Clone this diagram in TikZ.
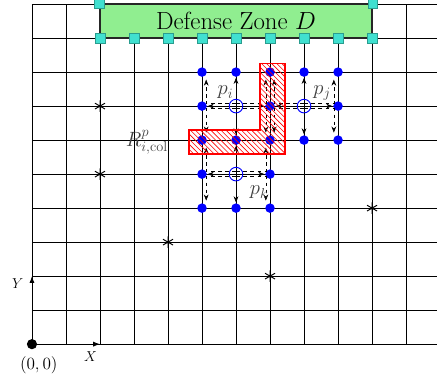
\documentclass[tikz,border=0pt]{standalone}
\usepackage{xcolor}
\definecolor{zonegreen}{HTML}{90EE90}
\definecolor{turq}{HTML}{40E0D0}
\definecolor{turqdark}{HTML}{2A9D8F}
\usepackage{tikz}
\usetikzlibrary{arrows.meta}

\begin{document}
\begin{tikzpicture}[x=1cm,y=1cm,
  dot/.style={circle,fill=blue,inner sep=0pt,minimum size=2.8mm},
  ring/.style={circle,draw=blue,line width=0.8pt,inner sep=0pt,minimum size=4mm},
  marker/.style={rectangle,fill=turq,draw=turqdark,line width=0.4pt,inner sep=0pt,minimum size=2.8mm},
  move/.style={dashed,line width=0.5pt,-{Stealth[length=1.8mm,width=1.4mm]}},
  lbl/.style={text=black!75,font=\LARGE}]
  \useasboundingbox (-0.94,-1.09) rectangle (11.91,10.12);
  \begin{scope}
    \clip (-0.94,-1.09) rectangle (11.91,10.12);
    \draw[line width=0.5pt] (0,0) grid (12,10);
  \end{scope}
  \node[draw=black!85,line width=1pt,fill=zonegreen,minimum width=8cm,minimum height=1cm,inner sep=0pt,font=\huge] (zone) at (6,9.5) {Defense Zone $D$};
  \node[marker] (mtl) at (zone.north west) {};
  \node[marker] (mtr) at (zone.north east) {};
  \foreach \x in {2,...,10} \node[marker] (m\x) at (\x,9) {};
  \foreach \s/\x/\y in {s1/2/7,s2/2/5,s3/4/3,s4/7/2,s5/10/4} {
    \coordinate (\s) at (\x,\y);
    \draw[line width=0.8pt] (\s) +(90:0.17) -- +(270:0.17) +(30:0.17) -- +(210:0.17) +(150:0.17) -- +(330:0.17);
  }
  \foreach \x/\y in {5/8,6/8,7/8,8/8,9/8,5/7,7/7,9/7,5/6,6/6,7/6,8/6,9/6,5/5,7/5,5/4,6/4,7/4}
    \node[dot] (d\x\y) at (\x,\y) {};
  \node[ring] (pi) at (6,7) {};
  \node[ring] (pj) at (8,7) {};
  \node[ring] (pk) at (6,5) {};
  \foreach \p/\px/\py in {pi/6/7,pj/8/7,pk/6/5} {
    \foreach \dx/\dy in {-1/0,1/0,0/-1,0/1} {
      \pgfmathtruncatemacro\tx{\px+\dx}
      \pgfmathtruncatemacro\ty{\py+\dy}
      \draw[move,shorten >=0.6pt] (\p.center) -- (d\tx\ty);
    }
    \foreach \dx in {-1,1} \foreach \dy in {-1,1} {
      \pgfmathtruncatemacro\tx{\px+\dx}
      \pgfmathtruncatemacro\ty{\py+\dy}
      \draw[move,shorten >=2.2mm] ([yshift=\dy*2pt]\p.center) -| ([xshift=-\dx*3.5pt]d\tx\ty.center);
    }
  }
  \begin{scope}
    \clip (4.62,5.6) -- (7.45,5.6) -- (7.45,8.25) -- (6.7,8.25) -- (6.7,6.3) -- (4.62,6.3) -- cycle;
    \foreach \a in {1.5,1.65,...,7.6} \draw[red,line width=0.5pt] (\a,8.4) -- ++(3,-3);
  \end{scope}
  \draw[red,line width=1.5pt]
    (4.62,5.6) -- (7.45,5.6) -- (7.45,8.25) -- (6.7,8.25) -- (6.7,6.3) -- (4.62,6.3) -- cycle;
  \node[lbl] (lpi) at (5.69,7.4) {$p_i$};
  \node[lbl] (lpj) at (8.53,7.38) {$p_j$};
  \node[lbl] (lpk) at (6.68,4.46) {$p_k$};
  \node[lbl] (rcol) at (3.38,5.94) {$R^p_{i,\mathrm{col}}$};
  \node[circle,fill=black,inner sep=0pt,minimum size=3mm] (o) at (0,0) {};
  \coordinate (xend) at (2,0);
  \coordinate (yend) at (0,2);
  \draw[line width=0.7pt,-{Latex[length=2mm]}] (o) -- (xend);
  \draw[line width=0.7pt,-{Latex[length=2mm]}] (o) -- (yend);
  \node[font=\large] (xl) at (1.72,-0.36) {$X$};
  \node[font=\large] (yl) at (-0.42,1.78) {$Y$};
  \node[font=\Large] (ol) at (0.2,-0.62) {$(0,0)$};
\end{tikzpicture}
\end{document}
